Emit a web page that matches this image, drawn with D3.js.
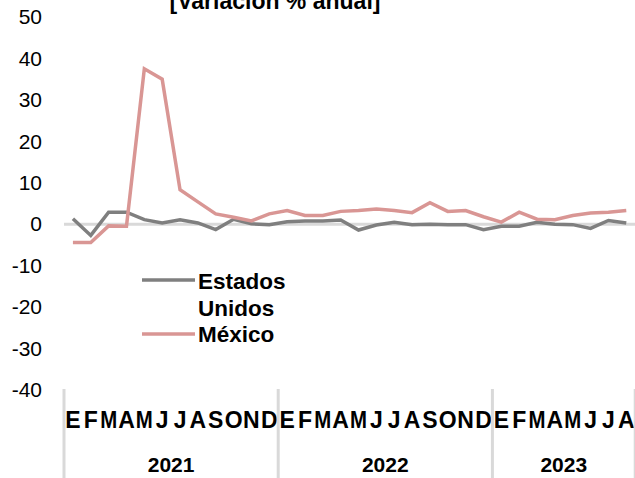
<!DOCTYPE html>
<html>
<head>
<meta charset="utf-8">
<script src="https://cdn.jsdelivr.net/npm/d3@7"></script>
<style>
  body { margin: 0; background: #fff; }
  text { font-family: "Liberation Sans", Arial, sans-serif; }
</style>
</head>
<body>
<div id="chart"></div>
<script>
// data, Jan 2021 .. Aug 2023
var months = ["E","F","M","A","M","J","J","A","S","O","N","D",
              "E","F","M","A","M","J","J","A","S","O","N","D",
              "E","F","M","A","M","J","J","A"];
var years = ["2021","2022","2023"];
var yearLengths = [12, 12, 8];
var usValues = [1.3,-2.7,2.9,2.9,1.1,0.3,1.1,0.3,-1.3,1.2,0.1,-0.1,
                0.6,0.8,0.8,1.0,-1.4,-0.2,0.45,-0.1,0,-0.1,-0.1,-1.3,
                -0.5,-0.5,0.45,0,-0.1,-1.0,0.9,0.3];
var mxValues = [-4.4,-4.4,-0.4,-0.5,37.5,35.0,8.3,5.4,2.5,1.7,0.8,2.5,
                3.3,2.1,2.1,3.1,3.3,3.7,3.3,2.8,5.2,3.1,3.3,1.8,
                0.5,2.9,1.2,1.1,2.1,2.7,2.9,3.3];
var yTicks = [50,40,30,20,10,0,-10,-20,-30,-40];
var seriesNames = ["Estados Unidos", "México"];
var colors = ["#7f7f7f", "#d99694"];

var W = 635, H = 478;
var svg = d3.select("#chart").append("svg")
    .attr("width", W).attr("height", H);

var x = d3.scaleBand().domain(d3.range(months.length)).range([64, 635.2]);
var y = d3.scaleLinear().domain([-40, 50]).range([390, 17]);

// title, clipped at the top like the original
svg.append("text")
    .attr("x", 275).attr("y", 9)
    .attr("text-anchor", "middle")
    .style("font-size", "23px").style("font-weight", "bold")
    .text("[Variación % anual]");

// y axis (labels only)
var yAxis = d3.axisLeft(y).tickValues(yTicks).tickSize(0).tickPadding(0);
var yg = svg.append("g").attr("transform", "translate(42,0)").call(yAxis);
yg.select(".domain").remove();
yg.selectAll("text")
    .style("font-size", "21px").attr("fill", "#000")
    .attr("font-family", "Liberation Sans, Arial, sans-serif")
    .text(d => d < 0 ? "-" + Math.abs(d) : d);

// zero line
svg.append("line")
    .attr("x1", 64).attr("x2", 635)
    .attr("y1", y(0)).attr("y2", y(0))
    .attr("stroke", "#d9d9d9").attr("stroke-width", 3);

// month labels
var xAxis = d3.axisBottom(x).tickSize(0).tickPadding(0).tickFormat(i => months[i]);
var xg = svg.append("g").attr("transform", "translate(0,412)").call(xAxis);
xg.select(".domain").remove();
xg.selectAll("text")
    .attr("dy", "0.71em")
    .style("font-size", "23px").style("font-weight", "bold").attr("fill", "#000")
    .attr("font-family", "Liberation Sans, Arial, sans-serif")
    .attr("textLength", i => months[i] == "M" ? 17 : null)
    .attr("lengthAdjust", "spacingAndGlyphs");

// year groups
var starts = [0];
yearLengths.forEach((n, i) => starts.push(starts[i] + n));
svg.selectAll("line.sep")
    .data(starts)
    .enter().append("line")
    .attr("class", "sep")
    .attr("x1", d => d < months.length ? x(d) : 635.2)
    .attr("x2", d => d < months.length ? x(d) : 635.2)
    .attr("y1", 389).attr("y2", H)
    .attr("stroke", "#d9d9d9").attr("stroke-width", 3);

svg.selectAll("text.year")
    .data(years)
    .enter().append("text")
    .attr("class", "year")
    .attr("x", (d, i) => x(starts[i]) + x.bandwidth() * yearLengths[i] / 2)
    .attr("y", 472)
    .attr("text-anchor", "middle")
    .style("font-size", "21px").style("font-weight", "bold")
    .text(d => d);

// lines
var line = d3.line()
    .x((d, i) => x(i) + x.bandwidth() / 2)
    .y(d => y(d));

[usValues, mxValues].forEach(function (vals, k) {
    svg.append("path")
        .datum(vals)
        .attr("d", line)
        .attr("fill", "none")
        .attr("stroke", colors[k])
        .attr("stroke-width", 3.5)
        .attr("stroke-linejoin", "miter");
});

// legend
var leg = svg.append("g");
leg.append("line").attr("x1", 142).attr("x2", 195).attr("y1", 280).attr("y2", 280)
    .attr("stroke", colors[0]).attr("stroke-width", 3.5);
leg.append("text").attr("x", 198).attr("y", 289)
    .style("font-size", "22.5px").style("font-weight", "bold")
    .text(seriesNames[0].split(" ")[0]);
leg.append("text").attr("x", 198).attr("y", 316)
    .style("font-size", "22.5px").style("font-weight", "bold")
    .text(seriesNames[0].split(" ")[1]);
leg.append("line").attr("x1", 142).attr("x2", 195).attr("y1", 334).attr("y2", 334)
    .attr("stroke", colors[1]).attr("stroke-width", 3.5);
leg.append("text").attr("x", 198).attr("y", 342)
    .style("font-size", "22.5px").style("font-weight", "bold")
    .text(seriesNames[1]);
</script>
</body>
</html>
